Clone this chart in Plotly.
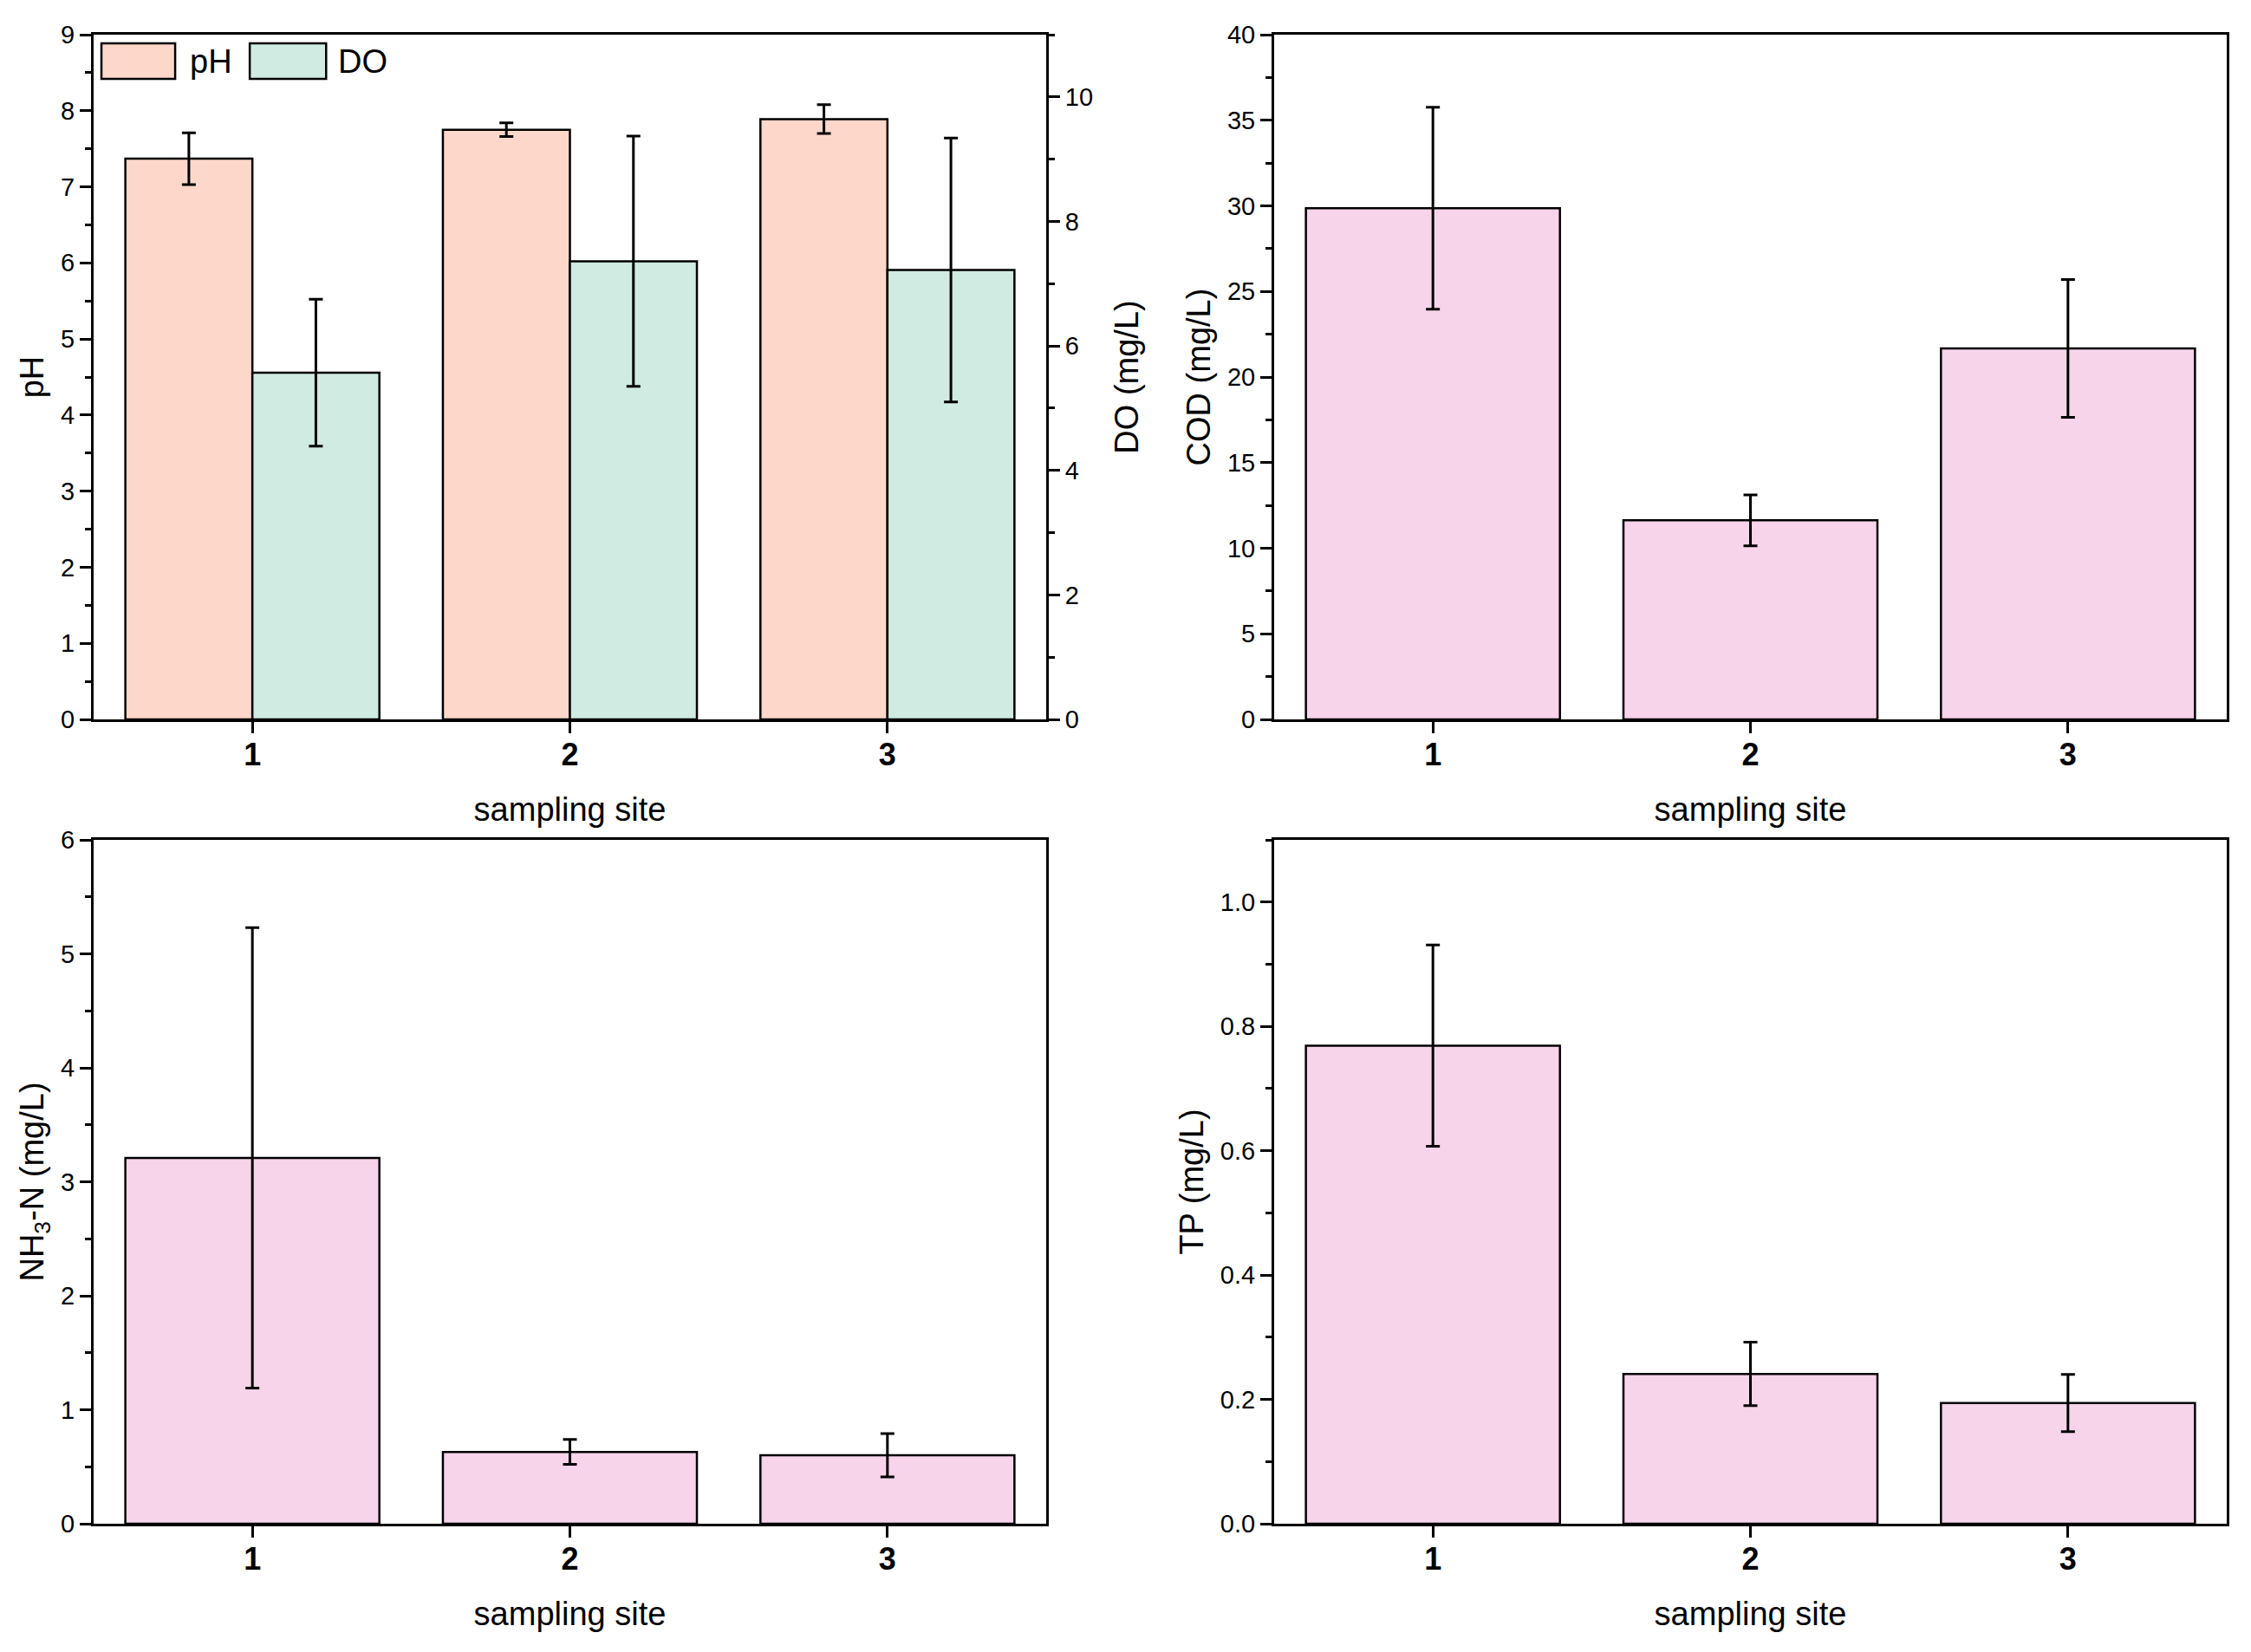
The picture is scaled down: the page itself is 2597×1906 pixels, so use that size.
import plotly.graph_objects as go

# ---------------- data ----------------
sites = [1, 2, 3]
site_labels = ["1", "2", "3"]

ph_mean = [7.37, 7.75, 7.89]
ph_err = [0.34, 0.09, 0.19]
do_mean = [5.57, 7.36, 7.22]
do_err = [1.18, 2.01, 2.12]
cod_mean = [29.86, 11.63, 21.67]
cod_err = [5.90, 1.49, 4.03]
nh3_mean = [3.21, 0.63, 0.60]
nh3_err = [2.02, 0.11, 0.19]
tp_mean = [0.769, 0.241, 0.194]
tp_err = [0.162, 0.051, 0.046]

# ---------------- styles ----------------
W, H = 2581, 1890
OFF = 8
def px2x(x):
    return (x - OFF) / W
def px2y(y):
    return 1 - (y - OFF) / H

C_PH = "#FDD8CA"
C_DO = "#D0EBE1"
C_PINK = "#F7D4EA"
FONT = "Liberation Sans, Arial, sans-serif"
TICKF = dict(family=FONT, size=29, color="black")
XTICKF = dict(family=FONT, size=36, color="black", weight="bold")
TITLEF = dict(family=FONT, size=38, color="black")

LW = 3

def err(arr):
    return dict(type="data", array=arr, visible=True, color="black", thickness=3, width=8)

bar_line = dict(color="black", width=2.5)

fig = go.Figure()

# Top-left: pH & DO
fig.add_trace(go.Bar(x=sites, y=ph_mean, error_y=err(ph_err), name="pH",
                     marker=dict(color=C_PH, line=bar_line), offset=-0.4, width=0.4,
                     xaxis="x", yaxis="y", showlegend=False))
fig.add_trace(go.Bar(x=sites, y=do_mean, error_y=err(do_err), name="DO",
                     marker=dict(color=C_DO, line=bar_line), offset=0.0, width=0.4,
                     xaxis="x", yaxis="y2", showlegend=False))
# Top-right: COD
fig.add_trace(go.Bar(x=sites, y=cod_mean, error_y=err(cod_err), name="COD",
                     marker=dict(color=C_PINK, line=bar_line), width=0.8,
                     xaxis="x2", yaxis="y3", showlegend=False))
# Bottom-left: NH3-N
fig.add_trace(go.Bar(x=sites, y=nh3_mean, error_y=err(nh3_err), name="NH3-N",
                     marker=dict(color=C_PINK, line=bar_line), width=0.8,
                     xaxis="x3", yaxis="y4", showlegend=False))
# Bottom-right: TP
fig.add_trace(go.Bar(x=sites, y=tp_mean, error_y=err(tp_err), name="TP",
                     marker=dict(color=C_PINK, line=bar_line), width=0.8,
                     xaxis="x4", yaxis="y5", showlegend=False))

XL = [px2x(108), px2x(1207)]
XR = [px2x(1470), px2x(2569)]
YT = [px2y(830), px2y(40)]
YB = [px2y(1758), px2y(969)]

def xax(domain, anchor):
    return dict(domain=domain, anchor=anchor, range=[0.5, 3.5], automargin=False,
                tickmode="array", tickvals=sites, ticktext=site_labels,
                ticks="outside", ticklen=13, tickwidth=LW, tickcolor="black",
                ticklabelstandoff=-6,
                showline=True, linewidth=LW, linecolor="black", mirror=True,
                showgrid=False, zeroline=False, tickfont=XTICKF,
                title=dict(text="sampling site", font=TITLEF, standoff=31))

def yax(domain, anchor, rng, dtick, minor, title, fmt=None, mirror=True, standoff=8):
    d = dict(domain=domain, anchor=anchor, range=rng, dtick=dtick, tick0=0,
             automargin=False,
             ticks="outside", ticklen=13, tickwidth=LW, tickcolor="black",
             minor=dict(dtick=minor, tick0=0, ticks="outside", ticklen=7,
                        tickwidth=LW, tickcolor="black", showgrid=False),
             showline=True, linewidth=LW, linecolor="black", mirror=mirror,
             showgrid=False, zeroline=False, tickfont=TICKF,
             title=dict(text=title, font=TITLEF, standoff=standoff))
    if fmt:
        d["tickformat"] = fmt
    return d

layout = dict(
    template="none",
    width=W, height=H,
    margin=dict(l=0, r=0, t=0, b=0, autoexpand=False),
    paper_bgcolor="white", plot_bgcolor="white",
    font=dict(family=FONT, color="black"),
    showlegend=False,
    xaxis=xax(XL, "y"),
    yaxis=yax(YT, "x", [0, 9], 1, 0.5, "pH", mirror=False),
    yaxis2=dict(overlaying="y", side="right", anchor="x", range=[0, 11], dtick=2, tick0=0,
                automargin=False,
                ticks="outside", ticklen=13, tickwidth=LW, tickcolor="black",
                minor=dict(dtick=1, tick0=0, ticks="outside", ticklen=7,
                           tickwidth=LW, tickcolor="black", showgrid=False),
                showline=True, linewidth=LW, linecolor="black",
                showgrid=False, zeroline=False, tickfont=TICKF,
                title=dict(text="DO (mg/L)", font=TITLEF, standoff=27)),
    xaxis2=xax(XR, "y3"),
    yaxis3=yax(YT, "x2", [0, 40], 5, 2.5, "COD (mg/L)"),
    xaxis3=xax(XL, "y4"),
    yaxis4=yax(YB, "x3", [0, 6], 1, 0.5, "NH<sub>3</sub>-N (mg/L)"),
    xaxis4=xax(XR, "y5"),
    yaxis5=yax(YB, "x4", [0, 1.1], 0.2, 0.1, "TP (mg/L)", fmt=".1f"),
)
fig.update_layout(**layout)

# custom legend for top-left panel
legend_items = [("pH", C_PH, 0.0082, 0.0856, 0.0993), ("DO", C_DO, 0.1639, 0.2441, 0.2550)]
for name, col, x0, x1, xt in legend_items:
    fig.add_shape(type="rect", xref="x domain", yref="y domain",
                  x0=x0, x1=x1, y0=0.9354, y1=0.9873,
                  fillcolor=col, line=dict(color="black", width=2.5))
    fig.add_annotation(xref="x domain", yref="y domain", x=xt, y=0.961,
                       text=name, showarrow=False, xanchor="left", yanchor="middle",
                       font=dict(family=FONT, size=38, color="black"))

fig.write_html("out.html")
